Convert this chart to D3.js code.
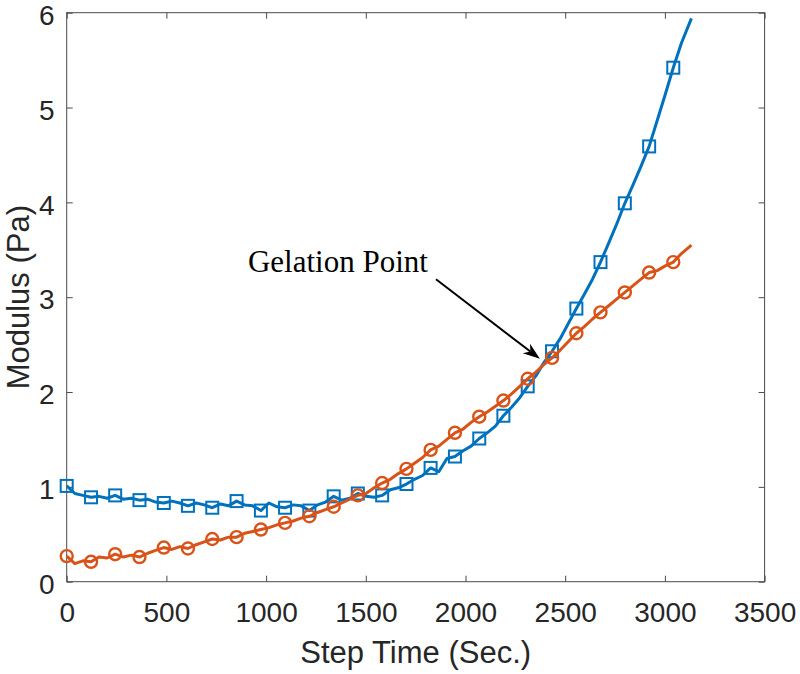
<!DOCTYPE html>
<html><head><meta charset="utf-8">
<script src="https://cdn.jsdelivr.net/npm/d3@7"></script>
<style>body{margin:0;background:#fff}svg{display:block}</style>
</head><body>
<svg id="chart" width="800" height="674"></svg>
<script>
const stepTime = [0,41,81,122,162,203,243,284,325,365,406,446,487,527,568,608,649,690,730,771,811,852,892,933,974,1014,1055,1095,1136,1176,1217,1258,1298,1339,1379,1420,1460,1501,1542,1582,1623,1663,1704,1744,1785,1825,1866,1907,1947,1988,2028,2069,2109,2150,2190,2231,2272,2312,2353,2393,2434,2474,2515,2556,2596,2637,2677,2718,2758,2799,2839,2880,2921,2961,3002,3042,3083,3133];
const modulusBlue = [1.01,0.93,0.91,0.89,0.90,0.88,0.91,0.87,0.88,0.86,0.87,0.84,0.83,0.85,0.83,0.80,0.83,0.81,0.78,0.82,0.80,0.85,0.81,0.80,0.75,0.83,0.79,0.78,0.81,0.80,0.75,0.81,0.84,0.90,0.86,0.88,0.93,0.90,0.89,0.91,0.97,0.99,1.03,1.08,1.12,1.20,1.16,1.30,1.32,1.38,1.43,1.51,1.57,1.64,1.75,1.84,1.94,2.06,2.17,2.31,2.43,2.56,2.72,2.88,3.03,3.19,3.37,3.57,3.77,3.99,4.18,4.38,4.59,4.86,5.14,5.42,5.68,5.94];
const modulusOrange = [0.27,0.19,0.22,0.21,0.26,0.25,0.29,0.26,0.28,0.26,0.30,0.33,0.36,0.34,0.37,0.35,0.39,0.42,0.45,0.44,0.47,0.47,0.51,0.53,0.55,0.57,0.60,0.62,0.64,0.67,0.69,0.73,0.76,0.79,0.83,0.87,0.91,0.93,0.99,1.04,1.08,1.14,1.19,1.25,1.31,1.39,1.43,1.50,1.57,1.61,1.68,1.74,1.79,1.85,1.91,1.98,2.06,2.14,2.21,2.29,2.36,2.44,2.53,2.62,2.69,2.77,2.84,2.91,2.98,3.05,3.12,3.19,3.26,3.28,3.33,3.37,3.46,3.55];
const xTicks = [0,500,1000,1500,2000,2500,3000,3500];
const yTicks = [0,1,2,3,4,5,6];
const markerEvery = 3;
const annotationText = "Gelation Point";
const annotationTextPos = [909, 3.27];
const arrowTail = [1852, 3.19];
const arrowTip = [2373, 2.35];

const svg = d3.select("#chart");
const m = {left:66.7, right:35.4, top:12.7, bottom:92.3};
const W = 800, H = 674;
const x = d3.scaleLinear().domain([0,3500]).range([m.left, W-m.right]);
const y = d3.scaleLinear().domain([0,6]).range([H-m.bottom, m.top]);
const axisColor = "#4a4a4a", textColor = "#262626";
const font = "'Liberation Sans', Arial, sans-serif";
const fmt = d3.format("d");

const g = svg.append("g");
g.append("rect").attr("x",x(0)).attr("y",y(6)).attr("width",x(3500)-x(0)).attr("height",y(0)-y(6))
  .attr("fill","none").attr("stroke",axisColor).attr("stroke-width",1);

const tl = 6;
const xb = d3.axisBottom(x).tickValues(xTicks).tickFormat(fmt).tickSizeInner(-tl).tickSizeOuter(0).tickPadding(20);
const xt = d3.axisTop(x).tickValues(xTicks).tickSizeInner(-tl).tickSizeOuter(0).tickFormat("");
const yl = d3.axisLeft(y).tickValues(yTicks).tickFormat(fmt).tickSizeInner(-tl).tickSizeOuter(0).tickPadding(12);
const yr = d3.axisRight(y).tickValues(yTicks).tickSizeInner(-tl).tickSizeOuter(0).tickFormat("");
function style(sel){
  sel.select(".domain").remove();
  sel.selectAll(".tick line").attr("stroke",axisColor);
  sel.selectAll(".tick text").attr("fill",textColor).style("font-family",font).style("font-size","28px");
}
g.append("g").attr("transform",`translate(0,${y(0)})`).call(xb).call(style);
g.append("g").attr("transform",`translate(0,${y(6)})`).call(xt).call(style);
g.append("g").attr("transform",`translate(${x(0)},0)`).call(yl).call(style)
  .selectAll(".tick text").attr("dy","0.42em");
g.append("g").attr("transform",`translate(${x(3500)},0)`).call(yr).call(style);

svg.append("text").attr("x",(x(0)+x(3500))/2).attr("y",663).attr("text-anchor","middle")
  .attr("fill",textColor).style("font-family",font).style("font-size","31px").text("Step Time (Sec.)");
svg.append("text").attr("transform",`translate(29,${(y(0)+y(6))/2}) rotate(-90)`).attr("text-anchor","middle")
  .attr("fill",textColor).style("font-family",font).style("font-size","31px").text("Modulus (Pa)");

const line = d3.line().x(d=>x(d[0])).y(d=>y(d[1]));
const series = [
  {vals: modulusBlue, color:"#0072BD", marker:"square"},
  {vals: modulusOrange, color:"#D95319", marker:"circle"}
];
series.forEach(s=>{
  const pts = stepTime.map((t,i)=>[t,s.vals[i]]);
  g.append("path").datum(pts).attr("d",line).attr("fill","none").attr("stroke",s.color)
    .attr("stroke-width",3).attr("stroke-linejoin","round");
  const mk = pts.filter((d,i)=>i%markerEvery===0 && i<=75);
  if (s.marker==="square") {
    g.selectAll(null).data(mk).enter().append("rect")
      .attr("x",d=>x(d[0])-6).attr("y",d=>y(d[1])-6).attr("width",12).attr("height",12)
      .attr("fill","none").attr("stroke",s.color).attr("stroke-width",2);
  } else {
    g.selectAll(null).data(mk).enter().append("circle")
      .attr("cx",d=>x(d[0])).attr("cy",d=>y(d[1])).attr("r",6)
      .attr("fill","none").attr("stroke",s.color).attr("stroke-width",2.4);
  }
});

svg.append("text").attr("x",x(annotationTextPos[0])).attr("y",y(annotationTextPos[1]))
  .style("font-family","'Liberation Serif','Times New Roman',serif").style("font-size","31px")
  .attr("fill","#000").text(annotationText);
const x1=x(arrowTail[0]), y1=y(arrowTail[1]), x2=x(arrowTip[0]), y2=y(arrowTip[1]);
const ang = Math.atan2(y2-y1,x2-x1);
const L=17, Wd=6, back=12;
const bx = x2 - back*Math.cos(ang), by = y2 - back*Math.sin(ang);
svg.append("line").attr("x1",x1).attr("y1",y1).attr("x2",bx).attr("y2",by).attr("stroke","#000").attr("stroke-width",2);
const p1=[x2 - L*Math.cos(ang) + Wd*Math.sin(ang), y2 - L*Math.sin(ang) - Wd*Math.cos(ang)];
const p2=[x2 - L*Math.cos(ang) - Wd*Math.sin(ang), y2 - L*Math.sin(ang) + Wd*Math.cos(ang)];
svg.append("path").attr("d",`M${x2},${y2}L${p1}L${bx},${by}L${p2}Z`).attr("fill","#000");
</script>
</body></html>
